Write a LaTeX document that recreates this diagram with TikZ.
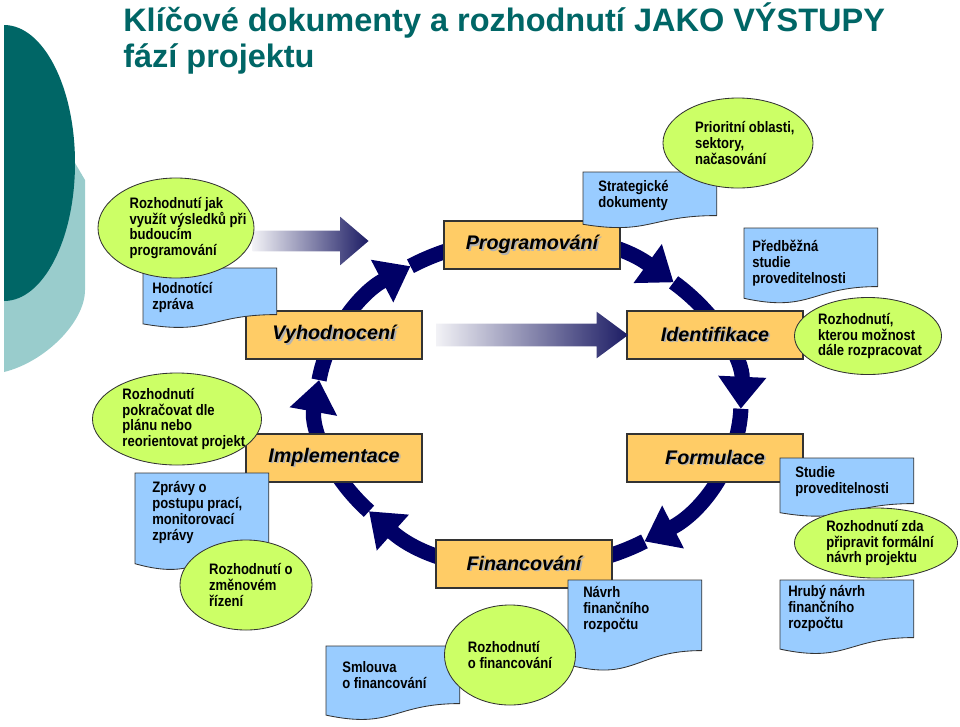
\documentclass[tikz,border=0pt]{standalone}
\usepackage{fontspec}
\setmainfont{Liberation Sans}
\newfontfamily\narrowfam[FakeStretch=0.86]{Liberation Sans}
\usetikzlibrary{arrows.meta,shapes.geometric,shapes.arrows,calc}

\definecolor{tealdark}{RGB}{0,102,102}
\definecolor{teallight}{RGB}{153,204,204}
\definecolor{ringblue}{RGB}{0,0,102}
\definecolor{boxorange}{RGB}{255,204,102}
\definecolor{docblue}{RGB}{153,204,255}
\definecolor{decgreen}{RGB}{204,255,102}
\definecolor{arrowfade}{RGB}{242,242,246}
\definecolor{arrowdark}{RGB}{28,28,100}

\newcommand\lblfont{\narrowfam\fontsize{10.8}{11.3}\selectfont\bfseries}
\newcommand\shadowtext[1]{\makebox[0pt][l]{\hspace{1.2pt}\raisebox{-1.2pt}{\textcolor{black!30}{#1}}}#1}
\newcommand\docwave[1]{%
  \fill[docblue] ($(#1.south east)+(0,-1)$) -- (#1.south east) .. controls (#1.south) and ($(#1.south)!-0.45!(#1.north)$) .. ($(#1.south west)!-0.2!(#1.north west)$) -- ($(#1.south west)+(0,-1)$) -- cycle;
  \draw[docline] (#1.south east) -- (#1.north east) -- (#1.north west) -- ($(#1.south west)!-0.2!(#1.north west)$) .. controls ($(#1.south)!-0.45!(#1.north)$) and (#1.south) .. (#1.south east);
}

\tikzset{
  phase/.style={draw=black!80, line width=0.8pt, fill=boxorange, minimum width=4.4cm, minimum height=1.2cm, inner sep=0pt, font=\fontsize{14}{16}\selectfont\bfseries\itshape},
  doc/.style={fill=docblue, anchor=north west, minimum width=3.33cm, inner sep=0pt},
  docline/.style={draw=black!80, line width=0.6pt},
  dtext/.style={lbl, anchor=north west},
  decision/.style={ellipse, draw=black!80, line width=0.6pt, fill=decgreen, inner sep=0pt},
  lbl/.style={align=left, font=\lblfont, inner sep=0pt},
  ring/.style={draw=ringblue, line width=0.38cm, -{Triangle[width=1.15cm,length=0.8cm]}},
  fatarrow/.style={single arrow, draw=none, inner xsep=0pt, single arrow head indent=0pt, left color=arrowfade, right color=arrowdark}
}

\begin{document}
\begin{tikzpicture}[x=0.025cm, y=-0.025cm]
\useasboundingbox (0,0) rectangle (960,726);

\fill[teallight] (4,163) -- (75,163) -- (85,180) -- (85,290) .. controls (85,322) and (45,362) .. (4,372) -- cycle;
\fill[tealdark] (4,25) arc[start angle=-90, end angle=90, x radius=71, y radius=138] -- cycle;
\node[anchor=base west, align=left, inner sep=0pt, text=tealdark, font=\fontsize{23.1}{24.9}\selectfont\bfseries] (title) at (123,67) {Klíčové dokumenty a rozhodnutí JAKO VÝSTUPY\\fází projektu};

\coordinate (ctr) at (529,403);
\foreach \a/\b in {-47/2, 2/57, 57/139, 139/188, 188/236, 236/313}
  \draw[ring] ($(ctr)+({212*cos(\a)},{165*sin(\a)})$) arc[start angle=\a, end angle=\b, x radius=212, y radius=165];

\node[phase] (prog) at (532,245) {\shadowtext{Programování}};
\node[phase] (vyh) at (334,335) {\shadowtext{Vyhodnocení}};
\node[phase] (ide) at (715,335) {\shadowtext{Identifikace}};
\node[phase] (imp) at (334,458) {\shadowtext{Implementace}};
\node[phase] (form) at (715,458) {\shadowtext{Formulace}};
\node[phase] (fin) at (524,564) {\shadowtext{Financování}};

\coordinate (aim) at (369,241);
\node[fatarrow, anchor=tip, minimum height=2.9cm, inner ysep=0.25cm, single arrow head extend=0.35cm, single arrow tip angle=81] (back) at (aim) {};
\node[fatarrow, minimum height=4.8cm, inner ysep=0.275cm, single arrow head extend=0.3cm, single arrow tip angle=73] (next) at ($(vyh.east)!0.5!(ide.west)$) {};

\node[doc, minimum height=1.15cm, label={[dtext, xshift=0.225cm, yshift=-0.36cm]north west:{Hodnotící\\zpráva}}] (hod) at (143,268) {};
\docwave{hod}
\node[doc, minimum height=1.075cm, label={[dtext, xshift=0.375cm, yshift=-0.2cm]north west:{Strategické\\dokumenty}}] (str) at (583,172) {};
\docwave{str}
\node[doc, minimum height=1.45cm, label={[dtext, xshift=0.2cm, yshift=-0.3cm]north west:{Předběžná\\studie\\proveditelnosti}}] (pre) at (744,228) {};
\docwave{pre}
\node[doc, minimum height=1.875cm, label={[dtext, xshift=0.425cm, yshift=-0.2cm]north west:{Zprávy o\\postupu prací,\\monitorovací\\zprávy}}] (zpr) at (135,473) {};
\docwave{zpr}
\node[doc, minimum height=1.125cm, label={[dtext, xshift=0.375cm, yshift=-0.2cm]north west:{Studie\\proveditelnosti}}] (stu) at (780,458) {};
\docwave{stu}
\node[doc, minimum height=1.425cm, label={[dtext, xshift=0.2cm, yshift=-0.13cm]north west:{Hrubý návrh\\finančního\\rozpočtu}}] (hru) at (780,580) {};
\docwave{hru}
\node[doc, minimum height=1.75cm, label={[dtext, xshift=0.375cm, yshift=-0.15cm]north west:{Návrh\\finančního\\rozpočtu}}] (nav) at (568,580) {};
\docwave{nav}
\node[doc, minimum height=1.425cm, label={[dtext, xshift=0.4cm, yshift=-0.38cm]north west:{Smlouva\\o financování}}] (sml) at (326,646) {};
\docwave{sml}

\node[decision, minimum width=3.9cm, minimum height=2.5cm, label={[lbl, xshift=0.3cm]center:{Rozhodnutí jak\\využít výsledků při\\budoucím\\programování}}] (dvyuz) at (176,228) {};
\node[decision, minimum width=3.75cm, minimum height=2.25cm, label={[lbl, xshift=0.17cm]center:{Prioritní oblasti,\\sektory,\\načasování}}] (dprio) at (738,143) {};
\node[decision, minimum width=3.675cm, minimum height=1.925cm, label={[lbl, xshift=0.05cm]center:{Rozhodnutí,\\kterou možnost\\dále rozpracovat}}] (dmozn) at (868,336) {};
\node[decision, minimum width=4.225cm, minimum height=2.3cm, label={[lbl, xshift=0.17cm]center:{Rozhodnutí\\pokračovat dle\\plánu nebo\\reorientovat projekt}}] (dpokr) at (177,419) {};
\node[decision, minimum width=3.3cm, minimum height=2.25cm, label={[lbl, xshift=0.12cm]center:{Rozhodnutí o\\změnovém\\řízení}}] (dzmen) at (246,585) {};
\node[decision, minimum width=3.275cm, minimum height=2.5cm, label={[lbl]center:{Rozhodnutí\\o financování}}] (dfin) at (510,655) {};
\node[decision, minimum width=4.075cm, minimum height=1.75cm, label={[lbl, xshift=0.1cm]center:{Rozhodnutí zda\\připravit formální\\návrh projektu}}] (dzda) at (876,543) {};
\end{tikzpicture}
\end{document}
